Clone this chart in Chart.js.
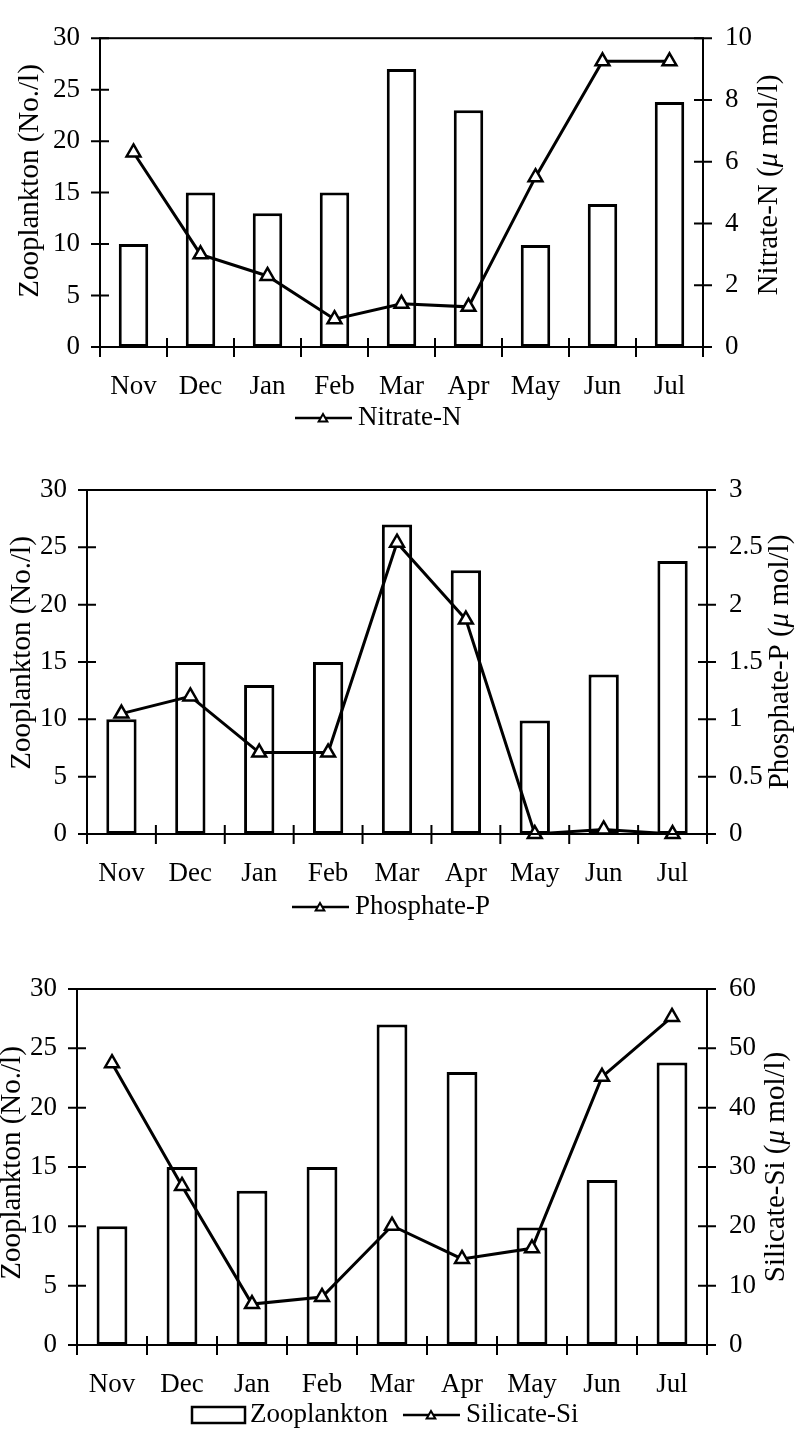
<!DOCTYPE html>
<html>
<head>
<meta charset="utf-8">
<script src="https://cdn.jsdelivr.net/npm/chart.js@4.4.0/dist/chart.umd.min.js"></script>
<style>
  body { margin: 0; background: #fff; }
  #wrap { position: relative; width: 795px; height: 1440px; }
  canvas { position: absolute; left: 0; }
</style>
</head>
<body>
<div id="wrap">
  <canvas id="c1" width="795" height="440" style="top:0"></canvas>
  <canvas id="c2" width="795" height="490" style="top:440px"></canvas>
  <canvas id="c3" width="795" height="510" style="top:930px"></canvas>
</div>
<script>
// data
const months = ['Nov', 'Dec', 'Jan', 'Feb', 'Mar', 'Apr', 'May', 'Jun', 'Jul'];
const zooplankton = [10, 15, 13, 15, 27, 23, 9.9, 13.9, 23.8];
const nitrate = [6.3, 3.0, 2.3, 0.9, 1.4, 1.3, 5.5, 9.25, 9.25];
const phosphate = [1.05, 1.2, 0.71, 0.71, 2.54, 1.87, 0.0, 0.04, 0.0];
const silicate = [47.5, 26.8, 6.9, 8.1, 20.1, 14.5, 16.3, 45.2, 55.3];

const zooTicks = { min: 0, max: 30, step: 5 };
const nitrateTicks = { min: 0, max: 10, step: 2 };
const phosphateTicks = { min: 0, max: 3, step: 0.5 };
const silicateTicks = { min: 0, max: 60, step: 10 };

const FONT = '"Liberation Serif", "Times New Roman", serif';
const FSIZE = 27;
const TSIZE = 29;

// draws text made of normal / italic pieces, centred on (cx, cy)
function drawParts(ctx, parts, cx, cy, rot, size) {
  ctx.save();
  ctx.translate(cx, cy);
  if (rot) ctx.rotate(rot);
  ctx.textBaseline = 'middle';
  ctx.textAlign = 'left';
  let w = 0;
  parts.forEach(p => {
    ctx.font = (p.it ? 'italic ' : '') + size + 'px ' + FONT;
    p.w = ctx.measureText(p.t).width;
    w += p.w;
  });
  let x = -w / 2;
  parts.forEach(p => {
    ctx.font = (p.it ? 'italic ' : '') + size + 'px ' + FONT;
    ctx.fillText(p.t, x, 0);
    x += p.w;
  });
  ctx.restore();
}

function triangle(ctx, x, y, r) {
  ctx.beginPath();
  for (let i = 0; i < 3; i++) {
    const a = i * 2 * Math.PI / 3;
    const px = x + Math.sin(a) * r, py = y - Math.cos(a) * r;
    if (i === 0) ctx.moveTo(px, py); else ctx.lineTo(px, py);
  }
  ctx.closePath();
  ctx.fillStyle = '#fff';
  ctx.fill();
  ctx.stroke();
}

// frame, crossing tick marks, axis titles and legend
const framePlugin = {
  id: 'frame',
  afterDraw(chart, args, o) {
    const ctx = chart.ctx;
    const a = chart.chartArea;
    const y = chart.scales.y, y1 = chart.scales.y1;
    ctx.save();
    ctx.strokeStyle = '#000';
    ctx.fillStyle = '#000';
    ctx.lineWidth = 2;
    ctx.strokeRect(a.left, a.top, a.right - a.left, a.bottom - a.top);

    ctx.beginPath();
    y.ticks.forEach(t => {
      const py = y.getPixelForValue(t.value);
      ctx.moveTo(a.left - 9, py); ctx.lineTo(a.left + 9, py);
    });
    y1.ticks.forEach(t => {
      const py = y1.getPixelForValue(t.value);
      ctx.moveTo(a.right - 9, py); ctx.lineTo(a.right + 9, py);
    });
    const n = months.length;
    for (let i = 0; i <= n; i++) {
      const px = a.left + i * (a.right - a.left) / n;
      ctx.moveTo(px, a.bottom - 9); ctx.lineTo(px, a.bottom + 10);
    }
    ctx.stroke();

    ctx.fillStyle = '#000';
    drawParts(ctx, [{ t: 'Zooplankton (No./l)' }], o.leftTitle[0], o.leftTitle[1], -Math.PI / 2, TSIZE);
    drawParts(ctx, o.rightParts, o.rightTitle[0], o.rightTitle[1], -Math.PI / 2, TSIZE);

    // legend
    let lx = o.legend[0];
    const ly = o.legend[1];
    ctx.font = FSIZE + 'px ' + FONT;
    ctx.textBaseline = 'middle';
    o.legendItems.forEach(it => {
      ctx.lineWidth = 2.5;
      if (it.type === 'bar') {
        ctx.strokeRect(lx, ly - 8, 53, 16);
        lx += 58;
      } else {
        ctx.beginPath();
        ctx.moveTo(lx, ly); ctx.lineTo(lx + 57, ly);
        ctx.stroke();
        ctx.lineWidth = 2;
        triangle(ctx, lx + 28, ly + 1, 5);
        lx += 63;
      }
      ctx.fillStyle = '#000';
      ctx.fillText(it.label, lx, ly);
      lx += ctx.measureText(it.label).width + 15;
    });
    ctx.restore();
  }
};

function makeChart(id, H, area, rightData, rightName, rightTicks, cfg) {
  const font = { family: FONT, size: FSIZE };
  return new Chart(document.getElementById(id), {
    type: 'bar',
    data: {
      labels: months,
      datasets: [{
        type: 'line',
        label: rightName,
        data: rightData,
        yAxisID: 'y1',
        order: 0,
        borderColor: '#000',
        borderWidth: 3,
        tension: 0,
        clip: false,
        pointStyle: 'triangle',
        pointRadius: 8,
        pointBorderWidth: 2.5,
        pointBackgroundColor: '#fff',
        pointBorderColor: '#000'
      }, {
        label: 'Zooplankton',
        data: zooplankton,
        yAxisID: 'y',
        order: 1,
        backgroundColor: '#fff',
        borderColor: '#000',
        borderWidth: 3,
        borderSkipped: false,
        barPercentage: 0.44,
        categoryPercentage: 1
      }]
    },
    options: {
      responsive: false,
      animation: false,
      layout: { padding: { top: area.t, left: 0, right: 0, bottom: 0 } },
      plugins: {
        legend: { display: false },
        tooltip: { enabled: false },
        frame: cfg
      },
      scales: {
        x: {
          grid: { display: false, drawTicks: false },
          border: { display: false },
          ticks: { font: font, color: '#000', padding: 24, maxRotation: 0 },
          afterFit: s => { s.height = H - area.b; }
        },
        y: {
          position: 'left',
          min: zooTicks.min, max: zooTicks.max,
          grid: { display: false, drawTicks: false },
          border: { display: false },
          ticks: { stepSize: zooTicks.step, font: font, color: '#000', padding: 20 },
          afterFit: s => { s.width = area.l; }
        },
        y1: {
          position: 'right',
          min: rightTicks.min, max: rightTicks.max,
          grid: { display: false, drawTicks: false },
          border: { display: false },
          ticks: {
            stepSize: rightTicks.step, font: font, color: '#000', padding: 22,
            callback: v => String(Math.round(v * 10) / 10)
          },
          afterFit: s => { s.width = 795 - area.r; }
        }
      }
    },
    plugins: [framePlugin]
  });
}

makeChart('c1', 440, { l: 100, r: 703, t: 22, b: 347 }, nitrate, 'Nitrate-N', nitrateTicks, {
  leftTitle: [30, 181],
  rightTitle: [769, 185],
  rightParts: [{ t: 'Nitrate-N (' }, { t: 'μ', it: true }, { t: ' mol/l)' }],
  legend: [295, 418],
  legendItems: [{ type: 'line', label: 'Nitrate-N' }]
});

makeChart('c2', 490, { l: 87, r: 707, t: 50, b: 394 }, phosphate, 'Phosphate-P', phosphateTicks, {
  leftTitle: [22, 213],
  rightTitle: [780, 222],
  rightParts: [{ t: 'Phosphate-P (' }, { t: 'μ', it: true }, { t: ' mol/l)' }],
  legend: [292, 467],
  legendItems: [{ type: 'line', label: 'Phosphate-P' }]
});

makeChart('c3', 510, { l: 77, r: 707, t: 59, b: 415 }, silicate, 'Silicate-Si', silicateTicks, {
  leftTitle: [12, 233],
  rightTitle: [776, 237],
  rightParts: [{ t: 'Silicate-Si (' }, { t: 'μ', it: true }, { t: ' mol/l)' }],
  legend: [192, 485],
  legendItems: [{ type: 'bar', label: 'Zooplankton' }, { type: 'line', label: 'Silicate-Si' }]
});
</script>
</body>
</html>
